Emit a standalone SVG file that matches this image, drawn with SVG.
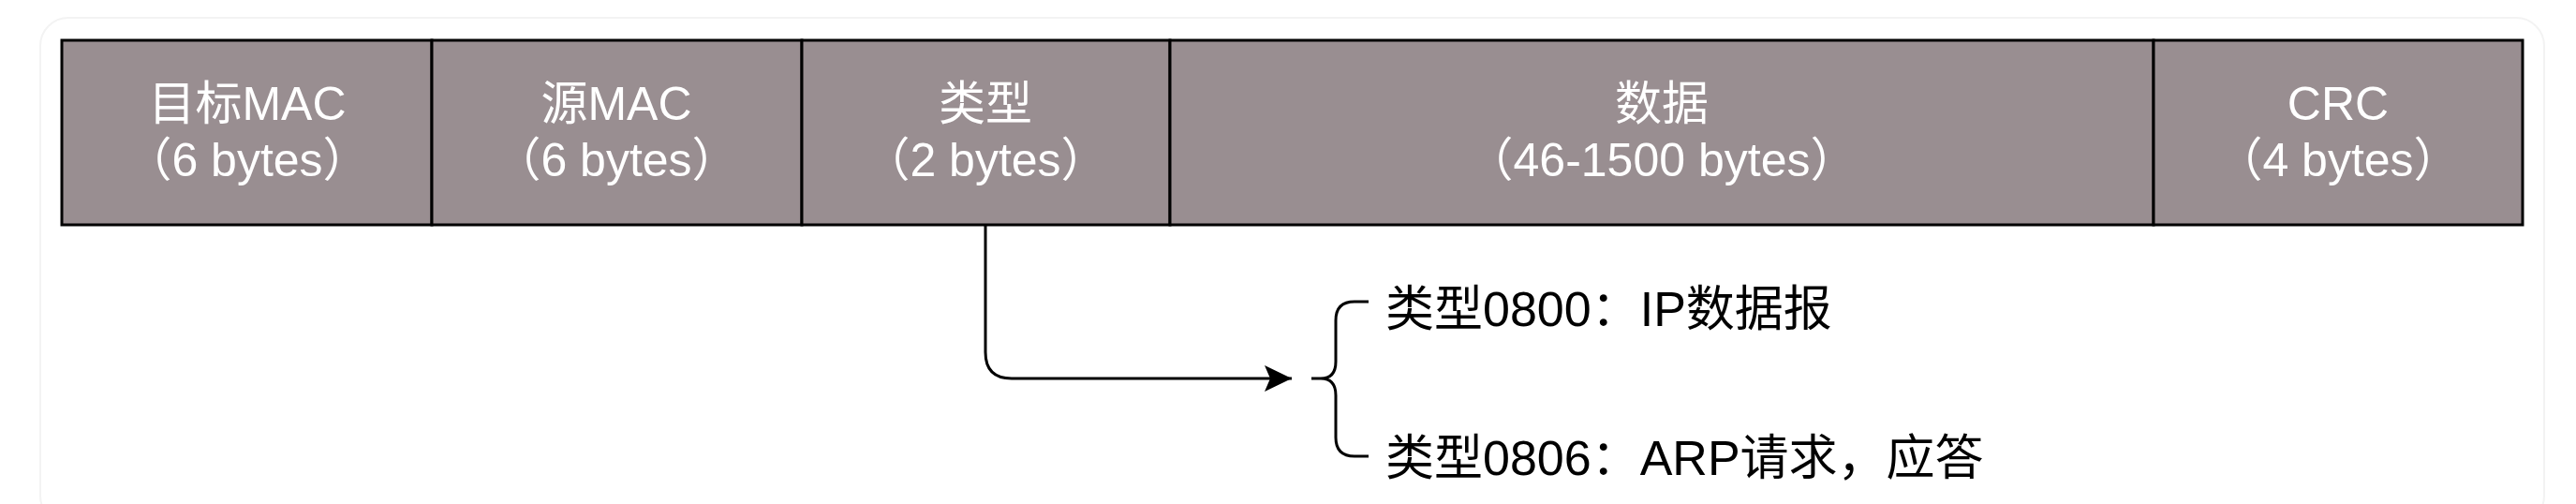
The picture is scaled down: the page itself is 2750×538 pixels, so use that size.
<svg xmlns="http://www.w3.org/2000/svg" width="2750" height="538" viewBox="0 0 2750 538">
  <defs>
    <style>
      .cell { fill: #998e91; stroke: #000; stroke-width: 3; }
      .hdr { font-family: "Liberation Sans", "Noto Sans CJK SC", sans-serif; font-size: 50px; fill: #ffffff; text-anchor: middle; }
      .lbl { font-family: "Liberation Sans", "Noto Sans CJK SC", sans-serif; font-size: 52px; fill: #000000; }
      .line { fill: none; stroke: #000; stroke-width: 3; }
    </style>
    <marker id="arrow" markerUnits="userSpaceOnUse" viewBox="0 0 30 30" refX="29" refY="15" markerWidth="30" markerHeight="30" orient="auto">
      <path d="M0,1 L29,15 L0,29 L6,15 Z" fill="#000"/>
    </marker>
  </defs>
  <rect x="0" y="0" width="2750" height="538" fill="#ffffff"/>
  <rect x="43" y="19" width="2673" height="540" rx="30" fill="none" stroke="#f3f3f3" stroke-width="2"/>

  <g id="node-dst-mac">
    <rect class="cell" x="66" y="43" width="395" height="197"/>
    <text class="hdr" x="264" y="128">目标MAC</text>
    <text class="hdr" x="264" y="188">（6 bytes）</text>
  </g>
  <g id="node-src-mac">
    <rect class="cell" x="461" y="43" width="395" height="197"/>
    <text class="hdr" x="658" y="128">源MAC</text>
    <text class="hdr" x="658" y="188">（6 bytes）</text>
  </g>
  <g id="node-type">
    <rect class="cell" x="856" y="43" width="393" height="197"/>
    <text class="hdr" x="1052" y="128">类型</text>
    <text class="hdr" x="1052" y="188">（2 bytes）</text>
  </g>
  <g id="node-data">
    <rect class="cell" x="1249" y="43" width="1050" height="197"/>
    <text class="hdr" x="1774" y="128">数据</text>
    <text class="hdr" x="1774" y="188">（46-1500 bytes）</text>
  </g>
  <g id="node-crc">
    <rect class="cell" x="2299" y="43" width="394" height="197"/>
    <text class="hdr" x="2496" y="128">CRC</text>
    <text class="hdr" x="2496" y="188">（4 bytes）</text>
  </g>

  <g id="connectors">
    <path class="line" d="M1052,241 L1052,376 Q1052,404 1080,404 L1379,404" marker-end="url(#arrow)"/>
  </g>

  <g id="node-brace">
    <path class="line" d="M1461,322 L1446,322 Q1426,322 1426,342 L1426,386 Q1426,404 1410,404 L1400,404 M1410,404 Q1426,404 1426,422 L1426,467 Q1426,487 1446,487 L1461,487"/>
  </g>
  <g id="node-type-0800">
    <text class="lbl" x="1479" y="348">类型0800：IP数据报</text>
  </g>
  <g id="node-type-0806">
    <text class="lbl" x="1479" y="507">类型0806：ARP请求，应答</text>
  </g>
</svg>
